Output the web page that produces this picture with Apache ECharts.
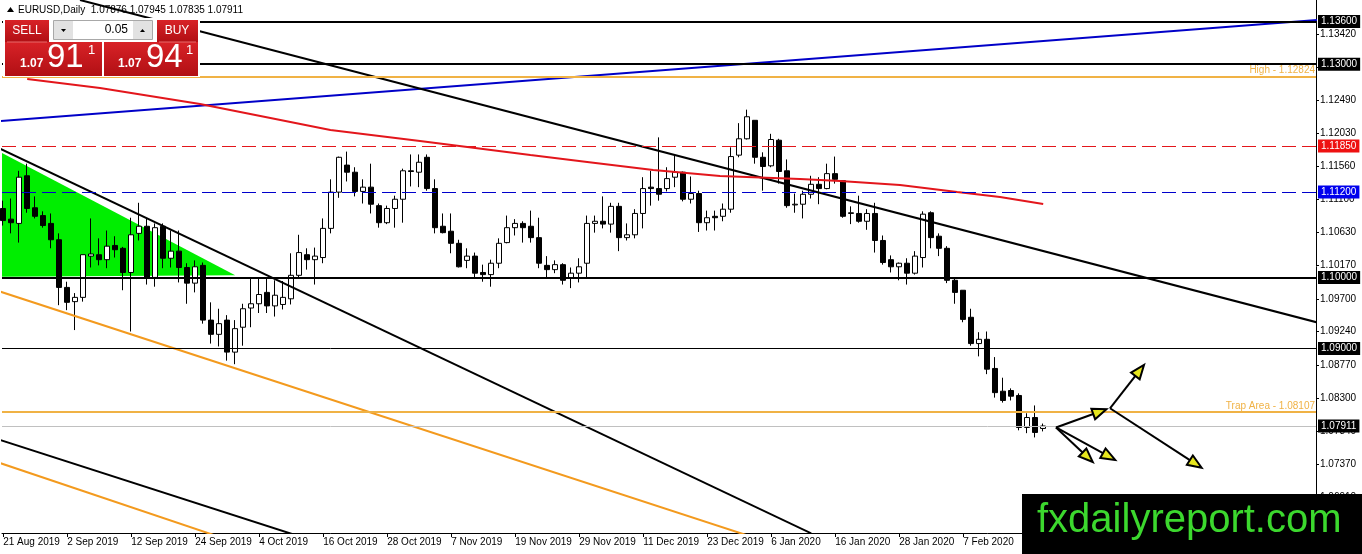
<!DOCTYPE html>
<html>
<head>
<meta charset="utf-8">
<title>EURUSD Daily</title>
<script src="https://cdn.jsdelivr.net/npm/echarts@6/dist/echarts.min.js"></script>
<style>
    html, body { margin: 0; padding: 0; background: #fff; }
    #chart { width: 1362px; height: 554px; }
</style>
</head>
<body>
<div id="chart"></div>
<script>
// 日线K线：日期
var dates = [
    '21 Aug 2019', '22 Aug 2019', '23 Aug 2019', '26 Aug 2019', '27 Aug 2019', '28 Aug 2019', '29 Aug 2019', '30 Aug 2019',
    '2 Sep 2019', '3 Sep 2019', '4 Sep 2019', '5 Sep 2019', '6 Sep 2019', '9 Sep 2019', '10 Sep 2019', '11 Sep 2019',
    '12 Sep 2019', '13 Sep 2019', '16 Sep 2019', '17 Sep 2019', '18 Sep 2019', '19 Sep 2019', '20 Sep 2019', '23 Sep 2019',
    '24 Sep 2019', '25 Sep 2019', '26 Sep 2019', '27 Sep 2019', '30 Sep 2019',
    '1 Oct 2019', '2 Oct 2019', '3 Oct 2019', '4 Oct 2019', '7 Oct 2019', '8 Oct 2019', '9 Oct 2019', '10 Oct 2019',
    '11 Oct 2019', '14 Oct 2019', '15 Oct 2019', '16 Oct 2019', '17 Oct 2019', '18 Oct 2019', '21 Oct 2019', '22 Oct 2019',
    '23 Oct 2019', '24 Oct 2019', '25 Oct 2019', '28 Oct 2019', '29 Oct 2019', '30 Oct 2019', '31 Oct 2019',
    '1 Nov 2019', '4 Nov 2019', '5 Nov 2019', '6 Nov 2019', '7 Nov 2019', '8 Nov 2019', '11 Nov 2019', '12 Nov 2019',
    '13 Nov 2019', '14 Nov 2019', '15 Nov 2019', '18 Nov 2019', '19 Nov 2019', '20 Nov 2019', '21 Nov 2019', '22 Nov 2019',
    '25 Nov 2019', '26 Nov 2019', '27 Nov 2019', '28 Nov 2019', '29 Nov 2019',
    '2 Dec 2019', '3 Dec 2019', '4 Dec 2019', '5 Dec 2019', '6 Dec 2019', '9 Dec 2019', '10 Dec 2019', '11 Dec 2019',
    '12 Dec 2019', '13 Dec 2019', '16 Dec 2019', '17 Dec 2019', '18 Dec 2019', '19 Dec 2019', '20 Dec 2019', '23 Dec 2019',
    '24 Dec 2019', '26 Dec 2019', '27 Dec 2019', '30 Dec 2019', '31 Dec 2019',
    '2 Jan 2020', '3 Jan 2020', '6 Jan 2020', '7 Jan 2020', '8 Jan 2020', '9 Jan 2020', '10 Jan 2020', '13 Jan 2020',
    '14 Jan 2020', '15 Jan 2020', '16 Jan 2020', '17 Jan 2020', '20 Jan 2020', '21 Jan 2020', '22 Jan 2020', '23 Jan 2020',
    '24 Jan 2020', '27 Jan 2020', '28 Jan 2020', '29 Jan 2020', '30 Jan 2020', '31 Jan 2020',
    '3 Feb 2020', '4 Feb 2020', '5 Feb 2020', '6 Feb 2020', '7 Feb 2020', '10 Feb 2020', '11 Feb 2020', '12 Feb 2020',
    '13 Feb 2020', '14 Feb 2020', '17 Feb 2020', '18 Feb 2020', '19 Feb 2020', '20 Feb 2020', '21 Feb 2020'
];

var opens = [
    1.1097, 1.1082, 1.1076, 1.1143, 1.1098, 1.1087, 1.1076, 1.1053, 1.0986, 1.0966,
    1.0972, 1.1030, 1.1032, 1.1025, 1.1045, 1.1041, 1.1007, 1.1062, 1.1072, 1.1000,
    1.1072, 1.1027, 1.1037, 1.1014, 1.0992, 1.1017, 1.0940, 1.0920, 1.0940, 1.0895,
    1.0930, 1.0957, 1.0963, 1.0979, 1.0960, 1.0962, 1.0970, 1.1003, 1.1032, 1.1025,
    1.1028, 1.1069, 1.1120, 1.1158, 1.1148, 1.1121, 1.1127, 1.1101, 1.1077, 1.1097,
    1.1110, 1.1150, 1.1148, 1.1169, 1.1125, 1.1072, 1.1065, 1.1048, 1.1024, 1.1030,
    1.1007, 1.1004, 1.1020, 1.1049, 1.1070, 1.1076, 1.1072, 1.1056, 1.1017, 1.1011,
    1.1018, 1.0999, 1.1006, 1.1020, 1.1076, 1.1079, 1.1075, 1.1100, 1.1056, 1.1060,
    1.1090, 1.1127, 1.1125, 1.1125, 1.1141, 1.1148, 1.1110, 1.1118, 1.1077, 1.1086,
    1.1086, 1.1096, 1.1172, 1.1195, 1.1221, 1.1169, 1.1157, 1.1193, 1.1150, 1.1102,
    1.1103, 1.1117, 1.1131, 1.1125, 1.1146, 1.1136, 1.1090, 1.1090, 1.1079, 1.1090,
    1.1052, 1.1025, 1.1015, 1.1020, 1.1006, 1.1028, 1.1091, 1.1058, 1.1041, 1.0996,
    1.0982, 1.0944, 1.0907, 1.0913, 1.0872, 1.0840, 1.0841, 1.0834, 1.0789, 1.0803,
    1.07876
];
var highs = [
    1.1108, 1.1111, 1.1150, 1.1160, 1.1114, 1.1093, 1.1090, 1.1062, 1.0994, 1.0978,
    1.1032, 1.1083, 1.1055, 1.1066, 1.1058, 1.1043, 1.1084, 1.1105, 1.1083, 1.1076,
    1.1076, 1.1066, 1.1066, 1.1020, 1.1024, 1.1021, 1.0965, 1.0956, 1.0947, 1.0940,
    1.0963, 1.0999, 1.0999, 1.0998, 1.0996, 1.0995, 1.1034, 1.1060, 1.1041, 1.1042,
    1.1083, 1.1138, 1.1170, 1.1177, 1.1155, 1.1138, 1.1160, 1.1104, 1.1101, 1.1115,
    1.1153, 1.1173, 1.1173, 1.1173, 1.1138, 1.1090, 1.1090, 1.1053, 1.1041, 1.1035,
    1.1018, 1.1025, 1.1055, 1.1087, 1.1082, 1.1079, 1.1094, 1.1084, 1.1030, 1.1024,
    1.1020, 1.1014, 1.1027, 1.1087, 1.1087, 1.1114, 1.1105, 1.1105, 1.1076, 1.1096,
    1.1141, 1.1150, 1.1197, 1.1155, 1.1172, 1.1149, 1.1142, 1.1122, 1.1094, 1.1094,
    1.1104, 1.1183, 1.1217, 1.1236, 1.1221, 1.1176, 1.1202, 1.1195, 1.1166, 1.1118,
    1.1122, 1.1143, 1.1141, 1.1160, 1.1170, 1.1136, 1.1100, 1.1115, 1.1096, 1.1105,
    1.1059, 1.1031, 1.1021, 1.1027, 1.1037, 1.1093, 1.1093, 1.1062, 1.1044, 1.0999,
    1.0982, 1.0956, 1.0923, 1.0924, 1.0888, 1.0859, 1.0844, 1.0837, 1.0809, 1.0820,
    1.07945
];
var lows = [
    1.1073, 1.1062, 1.1049, 1.1091, 1.1083, 1.1070, 1.1041, 1.0961, 1.0954, 1.0926,
    1.0966, 1.1014, 1.1017, 1.1013, 1.1028, 1.0982, 1.0924, 1.1052, 1.0990, 1.0987,
    1.1013, 1.1014, 1.0993, 1.0963, 1.0979, 1.0935, 1.0907, 1.0903, 1.0883, 1.0878,
    1.0904, 1.0930, 1.0950, 1.0950, 1.0945, 1.0955, 1.0962, 1.1000, 1.1011, 1.0990,
    1.1020, 1.1062, 1.1112, 1.1135, 1.1114, 1.1104, 1.1090, 1.1070, 1.1075, 1.1070,
    1.1077, 1.1128, 1.1127, 1.1122, 1.1062, 1.1062, 1.1034, 1.1014, 1.1013, 1.1000,
    1.0994, 1.0987, 1.1013, 1.1048, 1.1059, 1.1049, 1.1049, 1.1013, 1.0999, 1.1006,
    1.0990, 1.0985, 1.0993, 1.1000, 1.1063, 1.1069, 1.1063, 1.1037, 1.1052, 1.1055,
    1.1069, 1.1101, 1.1108, 1.1121, 1.1127, 1.1107, 1.1104, 1.1064, 1.1066, 1.1066,
    1.1079, 1.1091, 1.1169, 1.1194, 1.1160, 1.1122, 1.1155, 1.1132, 1.1098, 1.1091,
    1.1083, 1.1111, 1.1103, 1.1124, 1.1132, 1.1084, 1.1075, 1.1077, 1.1067, 1.1035,
    1.1018, 1.1007, 1.0996, 1.0990, 1.1004, 1.1014, 1.1041, 1.1030, 1.0992, 1.0963,
    1.0937, 1.0904, 1.0889, 1.0864, 1.0831, 1.0824, 1.0827, 1.0785, 1.0781, 1.0775,
    1.07835
];
var closes = [
    1.1080, 1.1077, 1.1141, 1.1097, 1.1086, 1.1073, 1.1053, 1.0986, 1.0965, 1.0972,
    1.1032, 1.1033, 1.1025, 1.1044, 1.1039, 1.1007, 1.1060, 1.1072, 1.1000, 1.1070,
    1.1027, 1.1037, 1.1014, 1.0992, 1.1015, 1.0940, 1.0920, 1.0935, 1.0895, 1.0928,
    1.0956, 1.0963, 1.0976, 1.0960, 1.0975, 1.0972, 1.1003, 1.1035, 1.1025, 1.1030,
    1.1069, 1.1120, 1.1169, 1.1148, 1.1121, 1.1127, 1.1103, 1.1077, 1.1097, 1.1110,
    1.1150, 1.1149, 1.1162, 1.1125, 1.1070, 1.1063, 1.1048, 1.1015, 1.1030, 1.1006,
    1.1004, 1.1020, 1.1048, 1.1070, 1.1076, 1.1070, 1.1056, 1.1020, 1.1011, 1.1018,
    1.0996, 1.1006, 1.1015, 1.1076, 1.1079, 1.1075, 1.1100, 1.1056, 1.1060, 1.1090,
    1.1125, 1.1125, 1.1117, 1.1139, 1.1148, 1.1110, 1.1118, 1.1077, 1.1084, 1.1084,
    1.1096, 1.1170, 1.1195, 1.1226, 1.1169, 1.1156, 1.1194, 1.1149, 1.1101, 1.1103,
    1.1117, 1.1131, 1.1125, 1.1146, 1.1138, 1.1086, 1.1091, 1.1079, 1.1090, 1.1052,
    1.1021, 1.1015, 1.1020, 1.1006, 1.1030, 1.1089, 1.1056, 1.1041, 1.0996, 1.0979,
    1.0941, 1.0907, 1.0913, 1.0871, 1.0838, 1.0827, 1.0833, 1.0789, 1.0803, 1.0782,
    1.07911
];

// 坐标轴刻度
var dateTickBars = [0, 8, 16, 24, 32, 40, 48, 56, 64, 72, 80, 88, 96, 104, 112, 120];
var priceTicks = [1.0691, 1.0737, 1.0784, 1.0830, 1.0877, 1.0924, 1.0970, 1.1017, 1.1063,
                  1.1110, 1.1156, 1.1203, 1.1249, 1.1296, 1.1342];

// 水平价位线
var blackLevels = [1.13600, 1.13000, 1.10000, 1.09000];
var redLevel = 1.11850;
var blueLevel = 1.11200;
var highLevel = 1.12824;
var trapLevel = 1.08107;
var bidPrice = 1.07911;
var askPrice = 1.07941;

// 趋势线 [bar, price]
var blueTrend = [[-0.5, 1.12199], [165, 1.13629]];
var topTrend = [[9.6, 1.13902], [165, 1.09345]];
var midTrend = [[-0.5, 1.11818], [101, 1.06402]];
var lowTrend = [[-0.5, 1.07718], [37, 1.06360]];
var orangeUpper = [[-0.5, 1.09806], [93, 1.06373]];
var orangeLower = [[-0.5, 1.07394], [27, 1.06352]];
var maPoints = [
    [3, 1.12791], [12.1, 1.12665], [24.6, 1.12440], [33.4, 1.12243], [40.9, 1.12074],
    [52.1, 1.11919], [65.9, 1.11722], [73, 1.11624], [81.25, 1.11511], [89.6, 1.11427],
    [99.6, 1.11385], [104.6, 1.11357], [112.1, 1.11300], [119.25, 1.11202], [124.6, 1.11132],
    [130, 1.11033]
];
var greenZone = [[-0.5, 1.11770], [29, 1.10030], [-0.5, 1.10010]];
var arrows = [
    [131.6, 1.07890, 137.9, 1.08146],
    [138.35, 1.08160, 142.6, 1.08769],
    [138.35, 1.08160, 149.8, 1.07324],
    [131.6, 1.07890, 136.2, 1.07404],
    [131.6, 1.07890, 139.0, 1.07433]
];

var FONT = '"Liberation Sans", Arial, sans-serif';

(function() {
    var last = opens.length - 1;

    //价格框标签
    function boxLabel(text, bg) {
        return {
            show: true,
            position: 'end',
            distance: 2,
            formatter: text,
            color: '#fff',
            backgroundColor: bg,
            padding: [2, 3, 1, 3],
            fontSize: 10,
            fontFamily: FONT
        };
    }

    function orangeLabel(text) {
        return { show: true, position: 'insideEndTop', distance: 1, formatter: text, color: '#f0b245', fontSize: 10, fontFamily: FONT };
    }

    function levelLines() {
        var list = blackLevels.map(function(v) {
            return {
                yAxis: v,
                lineStyle: { color: '#000', width: v === 1.09 ? 1 : 2, type: 'solid' },
                label: boxLabel(v.toFixed(5), '#000')
            };
        });
        list.push({ yAxis: redLevel, lineStyle: { color: '#e3161c', width: 1, type: [14, 6] }, label: boxLabel(redLevel.toFixed(5), '#ee1111') });
        list.push({ yAxis: blueLevel, lineStyle: { color: '#0000cc', width: 1, type: [14, 6] }, label: boxLabel(blueLevel.toFixed(5), '#0000ee') });
        list.push({ yAxis: highLevel, lineStyle: { color: '#f0b245', width: 2, type: 'solid' }, label: orangeLabel('High - ' + highLevel.toFixed(5)) });
        list.push({ yAxis: trapLevel, lineStyle: { color: '#f0b245', width: 2, type: 'solid' }, label: orangeLabel('Trap Area - ' + trapLevel.toFixed(5)) });
        list.push({ yAxis: bidPrice, lineStyle: { color: '#c0c0c0', width: 1, type: 'solid' }, label: boxLabel(bidPrice.toFixed(5), '#000') });
        return list;
    }

    function trend(points, color, width) {
        return {
            type: 'line',
            data: points,
            symbol: 'none',
            clip: true,
            silent: true,
            z: 4,
            lineStyle: { color: color, width: width }
        };
    }

    function renderArrow(params, api) {
        var a = api.coord([api.value(0), api.value(1)]);
        var b = api.coord([api.value(2), api.value(3)]);
        var dx = b[0] - a[0], dy = b[1] - a[1];
        var len = Math.sqrt(dx * dx + dy * dy);
        var ux = dx / len, uy = dy / len;
        var bx = b[0] - ux * 14, by = b[1] - uy * 14;
        return {
            type: 'group',
            children: [{
                type: 'line',
                shape: { x1: a[0], y1: a[1], x2: bx, y2: by },
                style: { stroke: '#000', lineWidth: 2 }
            }, {
                type: 'polygon',
                shape: { points: [[b[0], b[1]], [bx - uy * 5.5, by + ux * 5.5], [bx + uy * 5.5, by - ux * 5.5]] },
                style: { fill: '#e6e61e', stroke: '#000', lineWidth: 2 }
            }]
        };
    }

    function renderZone(params, api) {
        var pts = [];
        for (var k = 0; k < 3; k++) {
            pts.push(api.coord([api.value(k * 2), api.value(k * 2 + 1)]));
        }
        return { type: 'polygon', shape: { points: pts }, style: { fill: '#00ee00' } };
    }

    //左上角交易面板
    function panel() {
        var red = { type: 'linear', x: 0, y: 0, x2: 0, y2: 1, colorStops: [{ offset: 0, color: '#d82227' }, { offset: 1, color: '#b10f14' }] };
        var bidStr = bidPrice.toFixed(5), askStr = askPrice.toFixed(5);
        var header = 'EURUSD,Daily  ' + opens[last].toFixed(5) + ' ' + highs[last].toFixed(5) + ' ' +
            lows[last].toFixed(5) + ' ' + closes[last].toFixed(5);
        var txt = function(x, y, s, size, opt) {
            return {
                type: 'text', x: x, y: y, z: 101,
                style: Object.assign({ text: s, fill: '#fff', fontSize: size, fontFamily: FONT, verticalAlign: 'middle', align: 'left' }, opt || {})
            };
        };
        return [
            { type: 'polygon', z: 101, shape: { points: [[7, 12], [10.5, 7], [14, 12]] }, style: { fill: '#000' } },
            txt(18, 10, header, 10, { fill: '#000' }),
            { type: 'rect', z: 100, shape: { x: 3, y: 18, width: 197, height: 59 }, style: { fill: '#fff' } },
            { type: 'rect', z: 100, shape: { x: 5, y: 20, width: 44, height: 22 }, style: { fill: red } },
            { type: 'rect', z: 100, shape: { x: 157, y: 20, width: 41, height: 22 }, style: { fill: red } },
            { type: 'rect', z: 100, shape: { x: 5, y: 42, width: 97, height: 34 }, style: { fill: red } },
            { type: 'rect', z: 100, shape: { x: 104, y: 42, width: 94, height: 34 }, style: { fill: red } },
            { type: 'line', z: 101, shape: { x1: 7, y1: 42, x2: 47, y2: 42 }, style: { stroke: '#e86a6a', lineWidth: 1 } },
            { type: 'line', z: 101, shape: { x1: 159, y1: 42, x2: 196, y2: 42 }, style: { stroke: '#e86a6a', lineWidth: 1 } },
            { type: 'rect', z: 100, shape: { x: 53.5, y: 20.5, width: 99, height: 19 }, style: { fill: '#fff', stroke: '#a8a8a8' } },
            { type: 'rect', z: 101, shape: { x: 54, y: 21, width: 19, height: 18 }, style: { fill: '#e2e2e2' } },
            { type: 'rect', z: 101, shape: { x: 133, y: 21, width: 19, height: 18 }, style: { fill: '#e2e2e2' } },
            { type: 'polygon', z: 102, shape: { points: [[61, 29], [66, 29], [63.5, 32]] }, style: { fill: '#000' } },
            { type: 'polygon', z: 102, shape: { points: [[140, 32], [145, 32], [142.5, 29]] }, style: { fill: '#000' } },
            txt(27, 31, 'SELL', 12, { align: 'center' }),
            txt(177, 31, 'BUY', 12, { align: 'center' }),
            txt(128, 30, '0.05', 12, { fill: '#000', align: 'right' }),
            txt(20, 64, bidStr.slice(0, 4), 12, { fontWeight: 'bold' }),
            txt(47, 58, bidStr.slice(4, 6), 33),
            txt(88, 50, bidStr.slice(6), 13),
            txt(118, 64, askStr.slice(0, 4), 12, { fontWeight: 'bold' }),
            txt(146, 58, askStr.slice(4, 6), 33),
            txt(186, 50, askStr.slice(6), 13),
            //水印
            { type: 'rect', z: 110, shape: { x: 1022, y: 494, width: 340, height: 60 }, style: { fill: '#000' } },
            { type: 'text', z: 111, x: 1037, y: 521, style: { text: 'fxdailyreport.com', fill: '#3cd82e', fontSize: 40, fontFamily: FONT, verticalAlign: 'middle' } }
        ];
    }

    var candles = opens.map(function(o, i) {
        return [i, o, closes[i], lows[i], highs[i]];
    });

    var option = {
        animation: false,
        backgroundColor: '#fff',
        grid: { left: 2, right: 46, top: 0, bottom: 21 },
        xAxis: {
            type: 'value',
            min: -0.15,
            max: 164.1,
            splitLine: { show: false },
            axisLine: { show: true, onZero: false, lineStyle: { color: '#000', width: 1 } },
            axisTick: { show: true, customValues: dateTickBars, length: 4, lineStyle: { color: '#000' } },
            axisLabel: {
                customValues: dateTickBars,
                formatter: function(v) { return dates[Math.round(v)] || ''; },
                align: 'left', margin: 4, color: '#000', fontSize: 10, fontFamily: FONT
            }
        },
        yAxis: {
            type: 'value',
            position: 'right',
            min: 1.06406,
            max: 1.13902,
            splitLine: { show: false },
            axisLine: { show: true, onZero: false, lineStyle: { color: '#000', width: 1 } },
            axisTick: { show: true, customValues: priceTicks, length: 3, lineStyle: { color: '#000' } },
            axisLabel: {
                customValues: priceTicks,
                formatter: function(v) { return v.toFixed(5); },
                margin: 4, color: '#000', fontSize: 10, fontFamily: FONT
            }
        },
        graphic: panel(),
        series: [{
            type: 'custom',
            renderItem: renderZone,
            data: [[].concat(greenZone[0], greenZone[1], greenZone[2])],
            encode: { x: [0, 2, 4], y: [1, 3, 5] },
            clip: true,
            silent: true,
            z: 1
        }, {
            type: 'line',
            data: [],
            silent: true,
            z: 2,
            markLine: {
                silent: true,
                precision: 5,
                symbol: ['none', 'none'],
                animation: false,
                data: levelLines()
            }
        }, {
            type: 'candlestick',
            data: candles,
            encode: { x: 0, y: [1, 2, 3, 4] },
            barWidth: 5,
            z: 3,
            itemStyle: {
                color: '#fff', color0: '#000',
                borderColor: '#000', borderColor0: '#000', borderWidth: 1
            }
        },
            trend(blueTrend, '#0000c8', 2),
            trend(topTrend, '#000', 2),
            trend(midTrend, '#000', 2),
            trend(lowTrend, '#000', 2),
            trend(orangeUpper, '#f39a1e', 2),
            trend(orangeLower, '#f39a1e', 2),
            trend(maPoints, '#e3161c', 2),
        {
            type: 'custom',
            renderItem: renderArrow,
            data: arrows,
            encode: { x: [0, 2], y: [1, 3] },
            silent: true,
            z: 5
        }]
    };

    var myChart = echarts.init(document.getElementById('chart'));
    myChart.setOption(option);
})();
</script>
</body>
</html>
